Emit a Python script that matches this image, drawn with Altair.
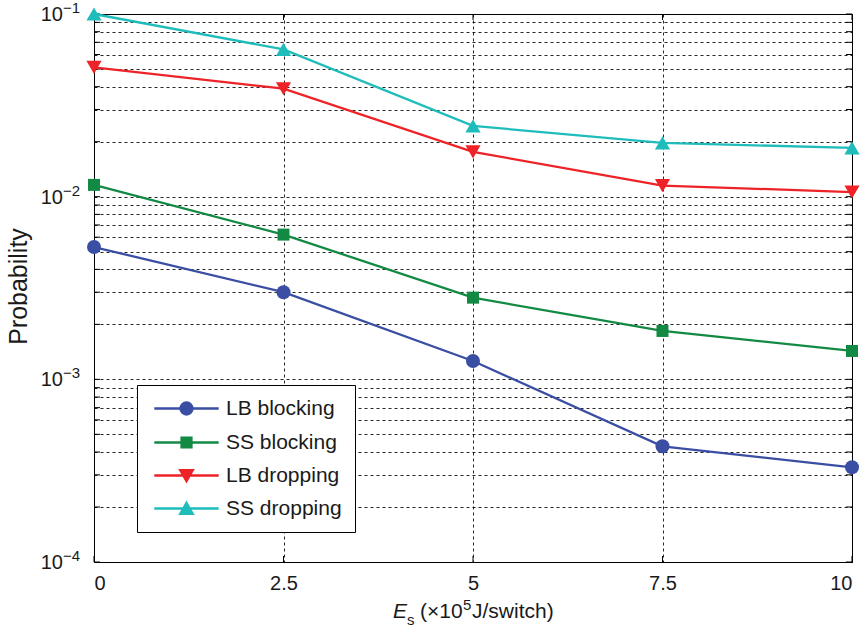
import altair as alt
import pandas as pd

# Switching energy E_s (x10^5 J/switch)
energy = [0, 2.5, 5, 7.5, 10]

# Probabilities per scheme
lb_blocking = [5.3e-3, 3.0e-3, 1.26e-3, 4.3e-4, 3.3e-4]
ss_blocking = [1.16e-2, 6.2e-3, 2.8e-3, 1.84e-3, 1.43e-3]
lb_dropping = [5.1e-2, 3.9e-2, 1.76e-2, 1.15e-2, 1.06e-2]
ss_dropping = [1.0e-1, 6.4e-2, 2.44e-2, 1.97e-2, 1.85e-2]

series_names = ["LB blocking", "SS blocking", "LB dropping", "SS dropping"]
series_values = [lb_blocking, ss_blocking, lb_dropping, ss_dropping]
series_colors = ["#3a4ea3", "#138a43", "#ee2328", "#1fbcbc"]
marker_shapes = ["circle", "square", "triangle-down", "triangle-up"]
marker_sizes = [196, 144, 230, 230]

# Legend glyphs: a line segment with the marker drawn over its middle
legend_paths = [
    "M-4.6,0H4.6M-0.86,0A0.86,0.86,0,1,0,0.86,0A0.86,0.86,0,1,0,-0.86,0Z",
    "M-4.6,0H4.6M-0.71,-0.71H0.71V0.71H-0.71Z",
    "M-4.6,0H4.6M-0.9,-0.78H0.9L0,0.8Z",
    "M-4.6,0H4.6M-0.9,0.78H0.9L0,-0.8Z",
]

x_ticks = [0, 2.5, 5, 7.5, 10]
decades = [1e-4, 1e-3, 1e-2, 1e-1]
decade_exponents = ["\u22124", "\u22123", "\u22122", "\u22121"]
minor_ticks = [m * 10.0 ** e for e in (-4, -3, -2) for m in range(1, 10)] + [1e-1]

FONT = "Liberation Sans"
TEXT = "#1a1a1a"
W, H = 758, 548
TICK = 6

rows = []
for name, vals in zip(series_names, series_values):
    for xv, yv in zip(energy, vals):
        rows.append({"energy": xv, "prob": yv, "series": name})
df = pd.DataFrame(rows)

x_scale = alt.Scale(domain=[0, 10], nice=False, zero=False)
y_scale = alt.Scale(type="log", domain=[1e-4, 1e-1], nice=False)

x_enc = alt.X(
    "energy:Q",
    scale=x_scale,
    axis=alt.Axis(
        values=x_ticks,
        labelExpr="'' + datum.value",
        title=None,
        tickSize=0,
        labelPadding=11,
        labelFont=FONT,
        labelFontSize=20,
        labelColor=TEXT,
        domainColor="#000",
        gridDash=[3, 3],
        gridColor="#000",
        gridOpacity=0.85,
    ),
)
y_enc = alt.Y(
    "prob:Q",
    scale=y_scale,
    axis=alt.Axis(
        values=minor_ticks,
        labels=False,
        tickSize=0,
        title="Probability",
        titleFont=FONT,
        titleFontSize=25,
        titleFontWeight="normal",
        titleColor=TEXT,
        titleX=-68,
        titleY=272,
        titleBaseline="alphabetic",
        domainColor="#000",
        gridDash=[3, 3],
        gridColor="#000",
        gridOpacity=0.85,
    ),
)

base = alt.Chart(df)

# Inward tick marks on all four sides of the box
ytick_base = alt.Chart(pd.DataFrame({"prob": minor_ticks}))
xtick_base = alt.Chart(pd.DataFrame({"energy": x_ticks}))
inner_ticks = [
    ytick_base.mark_rule(color="#000", strokeWidth=1).encode(y=y_enc, x=alt.value(0), x2=alt.value(TICK)),
    ytick_base.mark_rule(color="#000", strokeWidth=1).encode(y=y_enc, x=alt.value(W - TICK), x2=alt.value(W)),
    xtick_base.mark_rule(color="#000", strokeWidth=1).encode(x=x_enc, y=alt.value(H - TICK), y2=alt.value(H)),
    xtick_base.mark_rule(color="#000", strokeWidth=1).encode(x=x_enc, y=alt.value(0), y2=alt.value(TICK)),
]

lines = [
    base.transform_filter(alt.datum.series == name)
    .mark_line(strokeWidth=2.3, color=color)
    .encode(x=x_enc, y=y_enc)
    for name, color in zip(series_names, series_colors)
]

markers = [
    base.transform_filter(alt.datum.series == name)
    .mark_point(filled=True, shape=shape, size=size, color=color, opacity=1, clip=False)
    .encode(x=x_enc, y=y_enc)
    for name, color, shape, size in zip(series_names, series_colors, marker_shapes, marker_sizes)
]

legend_def = alt.Legend(
    title=None,
    orient="none",
    legendX=43,
    legendY=371,
    padding=13,
    strokeColor="#000",
    fillColor="white",
    labelFont=FONT,
    labelFontSize=21,
    labelColor=TEXT,
    symbolSize=196,
    symbolStrokeWidth=2.3,
    symbolOffset=26,
    labelOffset=29,
    rowPadding=11,
)

# Off-view, clipped marks that only carry the legend's scales
legend_layer = base.mark_point(filled=True, opacity=1, strokeWidth=2.3, clip=True).encode(
    x=alt.value(-300),
    y=alt.value(-300),
    fill=alt.Fill("series:N", scale=alt.Scale(domain=series_names, range=series_colors), legend=legend_def),
    stroke=alt.Stroke("series:N", scale=alt.Scale(domain=series_names, range=series_colors), legend=legend_def),
    shape=alt.Shape("series:N", scale=alt.Scale(domain=series_names, range=legend_paths), legend=legend_def),
)

# Decade labels on the log axis: "10" with a raised exponent
decade_df = pd.DataFrame({"prob": decades, "exp": decade_exponents})
dec_base = alt.Chart(decade_df)
dec_tens = dec_base.mark_text(
    text="10", align="right", baseline="middle", font=FONT, fontSize=20, color=TEXT, dy=1
).encode(x=alt.value(-31), y=alt.Y("prob:Q", scale=y_scale))
dec_exp = dec_base.mark_text(
    align="left", baseline="middle", font=FONT, fontSize=15, color=TEXT, dy=-6
).encode(x=alt.value(-31), y=alt.Y("prob:Q", scale=y_scale), text="exp:N")

# x-axis title: italic E with subscript s, then the unit with a raised exponent
one = alt.Data(values=[{}])
title_parts = [
    ("E", 299, 604, 21, "italic"),
    ("s", 313, 611, 15, "normal"),
    ("(\u00d710", 326, 604, 21, "normal"),
    ("5", 369, 596, 15, "normal"),
    ("J/switch)", 378, 604, 21, "normal"),
]
x_title = [
    alt.Chart(one)
    .mark_text(text=t, align="left", baseline="alphabetic", font=FONT, fontSize=fs, fontStyle=st, color=TEXT)
    .encode(x=alt.value(px), y=alt.value(py))
    for t, px, py, fs, st in title_parts
]

chart = (
    alt.layer(*inner_ticks, *lines, *markers, legend_layer, dec_tens, dec_exp, *x_title)
    .properties(
        width=W,
        height=H,
        autosize=alt.AutoSizeParams(type="none"),
        padding={"left": 94, "top": 14, "right": 15, "bottom": 74},
        background="white",
    )
    .configure_view(stroke="#000", strokeWidth=1)
    .configure_axis(grid=True, gridWidth=1)
)

chart.save("out.html", embed_options={"renderer": "svg", "actions": False})
